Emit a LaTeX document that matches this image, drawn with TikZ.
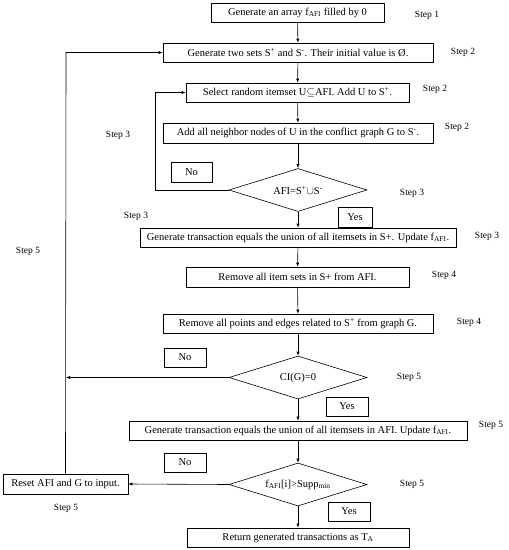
\documentclass[tikz,border=0pt]{standalone}
\usepackage{fontspec}
\setmainfont{Liberation Serif}
\usetikzlibrary{shapes.geometric,arrows.meta}
\begin{document}
\begin{tikzpicture}[x=1pt,y=-1pt,
  font=\fontsize{10.5}{12}\selectfont,
  box/.style={draw,line width=0.6pt,inner sep=0pt,minimum height=19pt},
  dia/.style={draw,diamond,line width=0.6pt,inner sep=0pt,aspect=3.2,minimum width=138pt,minimum height=43pt},
  lab/.style={draw,line width=0.6pt,inner sep=0pt,minimum width=42pt,minimum height=19pt},
  steplab/.style={inner sep=0pt,font=\fontsize{9.5}{11}\selectfont},
  arr/.style={line width=0.6pt,-{Latex[length=4pt,width=3.2pt]}},
  ln/.style={line width=0.6pt}]
\useasboundingbox (0,0) rectangle (509,550);
% main boxes
\node[box,minimum width=173pt] (b1) at (297.5,12.5) {Generate an array f\textsubscript{AFI} filled by 0};
\node[box,minimum width=270pt] (b2) at (298,52.5) {Generate two sets S\textsuperscript{+} and S\textsuperscript{-}. Their initial value is Ø.};
\node[box,minimum width=223pt] (b3) at (297.5,92.5) {Select random itemset U$\subseteq$AFI. Add U to S\textsuperscript{+}.};
\node[box,minimum width=270pt,minimum height=20pt] (b4) at (298,133) {Add all neighbor nodes of U in the conflict graph G to S\textsuperscript{-}.};
\node[dia] (d1) at (298,190) {AFI=S\textsuperscript{+}$\cup$S\textsuperscript{-}};
\node[box,minimum width=316pt] (b5) at (298,237.5) {Generate transaction equals the union of all itemsets in S+. Update f\textsubscript{AFI}.};
\node[box,minimum width=223pt,minimum height=20pt] (b6) at (297.5,277) {Remove all item sets in S+ from AFI.};
\node[box,minimum width=270pt] (b7) at (298,323.5) {Remove all points and edges related to S\textsuperscript{+} from graph G.};
\node[dia] (d2) at (298,377.5) {CI(G)=0};
\node[box,minimum width=338pt] (b8) at (298,430.5) {Generate transaction equals the union of all itemsets in AFI. Update f\textsubscript{AFI}.};
\node[dia] (d3) at (298,484.5) {f\textsubscript{AFI}[i]>Supp\textsubscript{min}};
\node[box,minimum width=222pt] (b9) at (298,537.5) {Return generated transactions as T\textsubscript{A}};
\node[box,minimum width=125pt,minimum height=20pt] (rs) at (65.5,484) {Reset AFI and G to input.};
% yes/no labels
\node[lab,minimum width=41pt,minimum height=20pt] (no1) at (191.5,172) {No};
\node[lab,minimum width=34pt,minimum height=20pt] (yes1) at (355,217) {Yes};
\node[lab] (no2) at (185,357.5) {No};
\node[lab] (yes2) at (347,406.5) {Yes};
\node[lab] (no3) at (185,462.5) {No};
\node[lab] (yes3) at (349,511.5) {Yes};
% step labels
\node[steplab] (s1) at (427,15) {Step 1};
\node[steplab] (s2a) at (463,52) {Step 2};
\node[steplab] (s2b) at (435,89) {Step 2};
\node[steplab] (s2c) at (457,127) {Step 2};
\node[steplab] (s3a) at (118,135) {Step 3};
\node[steplab] (s3b) at (412,193) {Step 3};
\node[steplab] (s3c) at (136,216) {Step 3};
\node[steplab] (s3d) at (487,236) {Step 3};
\node[steplab] (s5a) at (28,251) {Step 5};
\node[steplab] (s4a) at (444,275) {Step 4};
\node[steplab] (s4b) at (469,322) {Step 4};
\node[steplab] (s5b) at (409,377) {Step 5};
\node[steplab] (s5c) at (491,425) {Step 5};
\node[steplab] (s5d) at (412,484) {Step 5};
\node[steplab] (s5e) at (66,508) {Step 5};
% loop coordinates
\coordinate (l1b) at (155,190);
\coordinate (l1t) at (155,92.5);
\coordinate (l2t) at (66,52.5);
\coordinate (l2m) at (66,377.5);
% straight arrows
\draw[arr] (b1) -- (b2);
\draw[arr] (b2) -- (b3);
\draw[arr] (b3) -- (b4);
\draw[arr] (b4) -- (d1);
\draw[arr] (d1) -- (b5);
\draw[arr] (b5) -- (b6);
\draw[arr] (b6) -- (b7);
\draw[arr] (b7) -- (d2);
\draw[arr] (d2) -- (b8);
\draw[arr] (b8) -- (d3);
\draw[arr] (d3) -- (b9);
\draw[arr] (d3.west) -- (rs.east);
% loops
\draw[arr] (d1.west) -- (l1b) -- (l1t) -- (b3.west);
\draw[arr] (rs.north) -- (l2t) -- (b2.west);
\draw[arr] (d2.west) -- (l2m);
\end{tikzpicture}
\end{document}
